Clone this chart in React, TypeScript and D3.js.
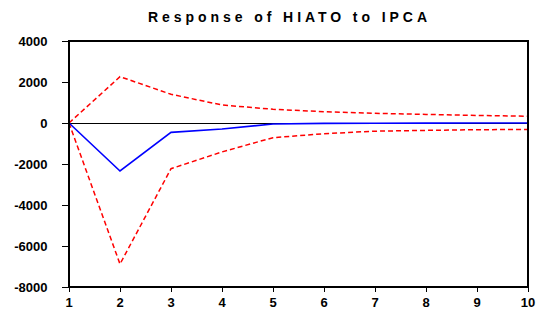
import { useEffect, useRef } from "react";
import * as d3 from "d3";

const periods = [1, 2, 3, 4, 5, 6, 7, 8, 9, 10];
const response = [0, -2340, -455, -290, -50, -20, -10, -5, -3, -2];
const upperBand = [0, 2260, 1400, 880, 670, 550, 470, 420, 370, 330];
const lowerBand = [0, -6880, -2230, -1410, -715, -520, -400, -360, -325, -320];
const yTicks = [4000, 2000, 0, -2000, -4000, -6000, -8000];

export default function App() {
  const ref = useRef<SVGSVGElement>(null);

  useEffect(() => {
    const svg = d3.select(ref.current);
    svg.selectAll("*").remove();

    const left = 69;
    const right = 528;
    const top = 41;
    const bottom = 287;

    const x = d3.scaleLinear().domain([1, 10]).range([left, right]);
    const y = d3.scaleLinear().domain([-8000, 4000]).range([bottom, top]);
    const font = "Liberation Sans, Arial, sans-serif";

    svg
      .append("text")
      .attr("x", 148)
      .attr("y", 22)
      .attr("textLength", 279)
      .attr("lengthAdjust", "spacing")
      .attr("font-family", font)
      .attr("font-weight", "bold")
      .attr("font-size", 14)
      .text("Response of HIATO to IPCA");

    // zero line
    svg
      .append("line")
      .attr("x1", left)
      .attr("x2", right)
      .attr("y1", y(0) + 0.5)
      .attr("y2", y(0) + 0.5)
      .attr("stroke", "#000")
      .attr("stroke-width", 1);

    const line = d3
      .line<number>()
      .x((_, i) => x(periods[i]))
      .y((d) => y(d));

    [upperBand, lowerBand].forEach((band) => {
      svg
        .append("path")
        .attr("d", line(band))
        .attr("fill", "none")
        .attr("stroke", "#ff0000")
        .attr("stroke-width", 1.5)
        .attr("stroke-dasharray", "5,3");
    });

    svg
      .append("path")
      .attr("d", line(response))
      .attr("fill", "none")
      .attr("stroke", "#0000ff")
      .attr("stroke-width", 1.6);

    // frame
    svg
      .append("rect")
      .attr("x", left)
      .attr("y", top)
      .attr("width", right - left)
      .attr("height", bottom - top)
      .attr("fill", "none")
      .attr("stroke", "#000")
      .attr("stroke-width", 2);

    const yAxis = svg.append("g");
    yAxis
      .selectAll("line")
      .data(yTicks)
      .enter()
      .append("line")
      .attr("x1", left - 7)
      .attr("x2", left)
      .attr("y1", (d) => y(d) + 0.5)
      .attr("y2", (d) => y(d) + 0.5)
      .attr("stroke", "#000")
      .attr("stroke-width", 1);
    yAxis
      .selectAll("text")
      .data(yTicks)
      .enter()
      .append("text")
      .attr("x", 47.5)
      .attr("y", (d) => y(d) + 4.5)
      .attr("text-anchor", "end")
      .attr("font-family", font)
      .attr("font-weight", "bold")
      .attr("font-size", 13)
      .text((d) => String(d));

    const xAxis = svg.append("g");
    xAxis
      .selectAll("line")
      .data(periods)
      .enter()
      .append("line")
      .attr("x1", (d) => x(d) + 0.5)
      .attr("x2", (d) => x(d) + 0.5)
      .attr("y1", bottom)
      .attr("y2", bottom + 5)
      .attr("stroke", "#000")
      .attr("stroke-width", 1);
    xAxis
      .selectAll("text")
      .data(periods)
      .enter()
      .append("text")
      .attr("x", (d) => x(d))
      .attr("y", 307)
      .attr("text-anchor", "middle")
      .attr("font-family", font)
      .attr("font-weight", "bold")
      .attr("font-size", 13)
      .text((d) => String(d));
  }, []);

  return (
    <svg
      ref={ref}
      width={540}
      height={314}
      style={{ position: "absolute", left: 0, top: 0, background: "#fff" }}
    />
  );
}
